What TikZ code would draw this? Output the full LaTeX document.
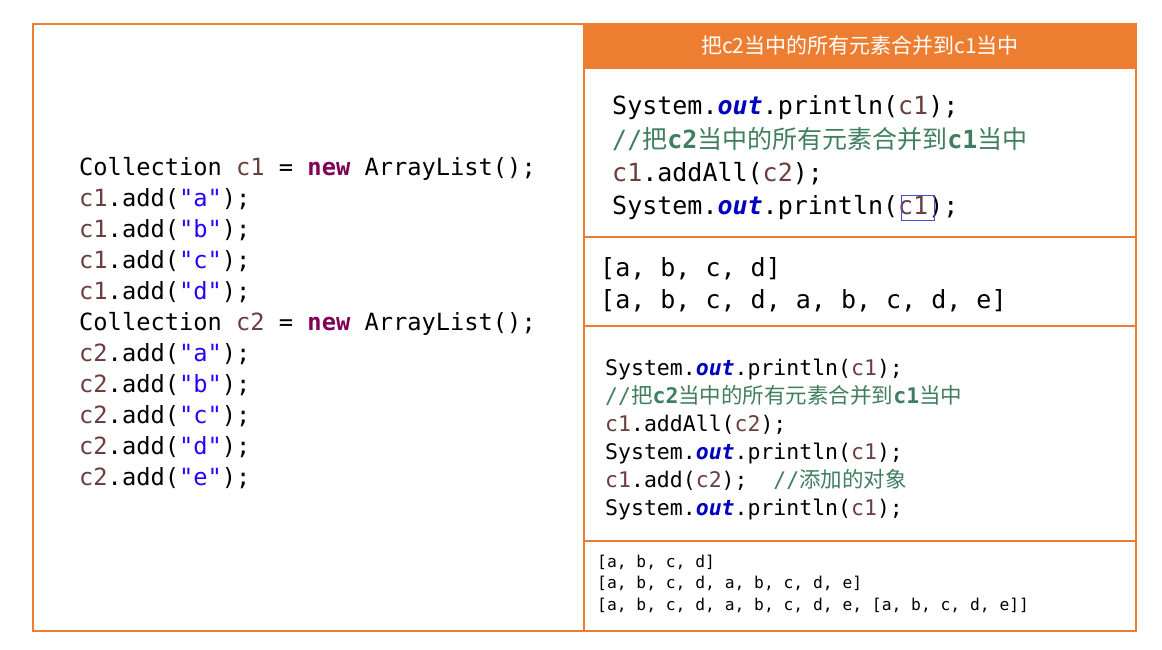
\documentclass[tikz,border=0pt]{standalone}
\usepackage{fontspec}
\setmonofont{DejaVu Sans Mono}
\newfontfamily\cjk{Noto Sans CJK SC}
\definecolor{frame}{HTML}{ED7D31}
\definecolor{kwcol}{HTML}{7F0055}
\definecolor{strcol}{HTML}{2A00FF}
\definecolor{varcol}{HTML}{6A3E3E}
\definecolor{fldcol}{HTML}{0000C0}
\definecolor{cmtcol}{HTML}{3F7F5F}
\newcommand{\kw}[1]{\textcolor{kwcol}{\bfseries #1}}
\newcommand{\str}[1]{\textcolor{strcol}{#1}}
\newcommand{\var}[1]{\textcolor{varcol}{#1}}
\newcommand{\fld}[1]{\textcolor{fldcol}{\bfseries\itshape #1}}
\newcommand{\cmtline}{\textcolor{cmtcol}{//{\cjk 把}\textbf{c2}{\cjk 当中的所有元素合并到}\textbf{c1}{\cjk 当中}}}
\tikzset{
  codeline/.style={anchor=base west,inner sep=0pt,font=\ttfamily},
  bigcode/.style={codeline,font=\ttfamily\fontsize{23.7}{24}\selectfont},
  topcode/.style={codeline,font=\ttfamily\fontsize{25}{26}\selectfont},
  midcode/.style={codeline,font=\ttfamily\fontsize{21.5}{22}\selectfont},
  smallcode/.style={codeline,font=\ttfamily\fontsize{16.3}{17}\selectfont}
}
\begin{document}
\begin{tikzpicture}[x=1pt,y=-1pt]
    \useasboundingbox (0,0) rectangle (1162,649);
    % Frame
    \fill[frame] (584,24) rectangle (1136,69);
    \node[text=white,font=\cjk\fontsize{21}{22}\selectfont] (title) at (860,46) {把c2当中的所有元素合并到c1当中};
    \draw[frame,line width=1.5pt] (33,24) rectangle (1136,631);
    \draw[frame,line width=1.5pt] (584,24) -- (584,631);
    \draw[frame,line width=1.5pt] (584,237) -- (1136,237);
    \draw[frame,line width=1.5pt] (584,326) -- (1136,326);
    \draw[frame,line width=1.5pt] (584,541) -- (1136,541);
    % Left code
    \node[bigcode] (l0) at (79,175) {Collection \var{c1} = \kw{new} ArrayList();};
    \foreach \ch [count=\i] in {a,b,c,d}
        \node[bigcode] (l\i) at (79,175+31*\i) {\var{c1}.add(\str{"\ch"});};
    \node[bigcode] (l5) at (79,330) {Collection \var{c2} = \kw{new} ArrayList();};
    \foreach \ch [count=\i from 6] in {a,b,c,d,e}
        \node[bigcode] (l\i) at (79,175+31*\i) {\var{c2}.add(\str{"\ch"});};
    % Top right code
    \node[topcode] (t0) at (612,114) {System.\fld{out}.println(\var{c1});};
    \node[topcode] (t1) at (612,148) {\cmtline};
    \node[topcode] (t2) at (612,181) {\var{c1}.addAll(\var{c2});};
    \node[topcode] (t3) at (612,214) {System.\fld{out}.println(\var{c1});};
    \draw[fldcol!70,line width=0.8pt] (901,195) rectangle (934,220);
    % First output
    \node[topcode] (o0) at (600,276) {[a, b, c, d]};
    \node[topcode] (o1) at (600,308) {[a, b, c, d, a, b, c, d, e]};
    % Second code
    \node[midcode] (m0) at (605,375) {System.\fld{out}.println(\var{c1});};
    \node[midcode] (m1) at (605,403) {\cmtline};
    \node[midcode] (m2) at (605,431) {\var{c1}.addAll(\var{c2});};
    \node[midcode] (m3) at (605,459) {System.\fld{out}.println(\var{c1});};
    \node[midcode] (m4) at (605,487) {\var{c1}.add(\var{c2});\ \ \textcolor{cmtcol}{//{\cjk 添加的对象}}};
    \node[midcode] (m5) at (605,515) {System.\fld{out}.println(\var{c1});};
    % Second output
    \node[smallcode] (s0) at (597,567) {[a, b, c, d]};
    \node[smallcode] (s1) at (597,588) {[a, b, c, d, a, b, c, d, e]};
    \node[smallcode] (s2) at (597,610) {[a, b, c, d, a, b, c, d, e, [a, b, c, d, e]]};
\end{tikzpicture}
\end{document}
